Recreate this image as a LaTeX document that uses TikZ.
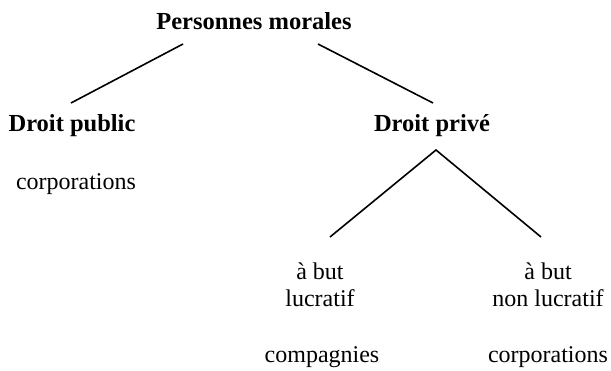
\documentclass[tikz,border=0pt]{standalone}
\usepackage{fontspec}
\setmainfont{Liberation Serif}
\begin{document}
\begin{tikzpicture}[x=1pt,y=-1pt,
  lbl/.style={inner sep=0pt,anchor=base,font=\fontsize{24}{29}\selectfont,align=center},
  head/.style={lbl,font=\fontsize{24.5}{29}\selectfont\bfseries},
  conn/.style={line width=1.6pt}]
\useasboundingbox (0,0) rectangle (611,371);
\node[head] (pm) at (254,30) {Personnes morales};
\node[head] (dpub) at (72,132) {Droit public};
\node[head] (dpriv) at (432,132) {Droit privé};
\node[lbl] (corp1) at (76,190) {corporations};
\node[lbl] (lucr1) at (320,280) {à but};
\node[lbl] (lucr2) at (320,307) {lucratif};
\node[lbl] (nonl1) at (548,280) {à but};
\node[lbl] (nonl2) at (548,307) {non lucratif};
\node[lbl] (comp) at (322,363) {compagnies};
\node[lbl] (corp2) at (548,363) {corporations};
\coordinate (pmL) at (183,44);
\coordinate (pmR) at (318,44);
\coordinate (dpubT) at (71,103);
\coordinate (dprivT) at (433,103);
\coordinate (apex) at (436,150);
\coordinate (lucrT) at (330,237);
\coordinate (nonlT) at (541,237);
\draw[conn] (pmL) -- (dpubT);
\draw[conn] (pmR) -- (dprivT);
\draw[conn] (lucrT) -- (apex) -- (nonlT);
\end{tikzpicture}
\end{document}
